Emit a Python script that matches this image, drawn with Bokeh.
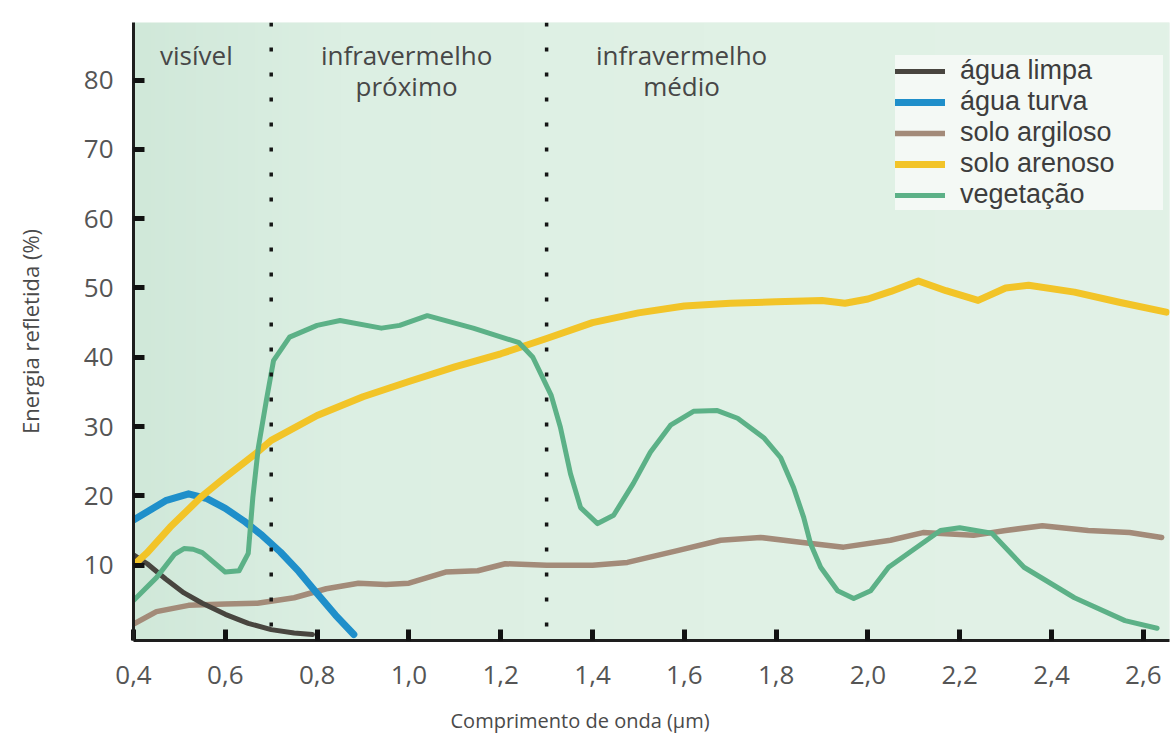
import numpy as np
from bokeh.plotting import figure
from bokeh.models import FixedTicker, Span, Legend, LegendItem, Title, Range1d
from bokeh.core.properties import value
from bokeh.embed import file_html
from bokeh.resources import INLINE

# ---------------- data ----------------
agua_limpa_x = [0.40, 0.43, 0.47, 0.51, 0.55, 0.60, 0.65, 0.70, 0.75, 0.79]
agua_limpa_y = [11.5, 10.2, 8.0, 6.0, 4.5, 2.9, 1.6, 0.7, 0.2, 0.0]

agua_turva_x = [0.40, 0.43, 0.47, 0.52, 0.56, 0.60, 0.64, 0.68, 0.72, 0.76, 0.80, 0.84, 0.88]
agua_turva_y = [16.5, 17.7, 19.3, 20.3, 19.6, 18.2, 16.4, 14.3, 11.9, 9.1, 5.9, 2.8, 0.0]

solo_argiloso_x = [0.40, 0.45, 0.52, 0.60, 0.67, 0.75, 0.82, 0.89, 0.95, 1.00, 1.08, 1.15,
                   1.21, 1.30, 1.40, 1.476, 1.585, 1.679, 1.766, 1.853, 1.947, 2.049,
                   2.12, 2.23, 2.30, 2.38, 2.48, 2.57, 2.64]
solo_argiloso_y = [1.5, 3.3, 4.2, 4.4, 4.5, 5.3, 6.6, 7.4, 7.2, 7.4, 9.0, 9.2,
                   10.2, 10.0, 10.0, 10.4, 12.1, 13.6, 14.0, 13.3, 12.6, 13.6,
                   14.7, 14.3, 15.0, 15.7, 15.0, 14.7, 14.0]

solo_arenoso_x = [0.40, 0.43, 0.48, 0.55, 0.60, 0.67, 0.70, 0.80, 0.90, 1.00, 1.10, 1.20,
                  1.30, 1.40, 1.50, 1.60, 1.70, 1.80, 1.90, 1.95, 2.00, 2.05, 2.11, 2.17,
                  2.24, 2.30, 2.35, 2.45, 2.55, 2.65]
solo_arenoso_y = [10.0, 11.8, 15.5, 20.0, 22.7, 26.3, 28.0, 31.6, 34.3, 36.5, 38.6, 40.5,
                  42.7, 45.0, 46.4, 47.4, 47.8, 48.0, 48.2, 47.8, 48.4, 49.5, 51.0, 49.6,
                  48.2, 50.0, 50.4, 49.4, 47.9, 46.5]

vegetacao_x = [0.40, 0.45, 0.49, 0.51, 0.53, 0.55, 0.60, 0.63, 0.65, 0.66, 0.672, 0.69,
               0.705, 0.74, 0.80, 0.85, 0.94, 0.98, 1.04, 1.14, 1.24, 1.27, 1.31, 1.33,
               1.352, 1.374, 1.411, 1.446, 1.489, 1.526, 1.57, 1.62, 1.672, 1.716, 1.773,
               1.81, 1.838, 1.86, 1.875, 1.897, 1.934, 1.969, 2.006, 2.045, 2.158, 2.20,
               2.27, 2.34, 2.45, 2.56, 2.63]
vegetacao_y = [4.9, 8.2, 11.6, 12.4, 12.3, 11.8, 9.0, 9.2, 11.7, 19.8, 27.0, 34.0,
               39.5, 42.9, 44.6, 45.3, 44.2, 44.6, 46.0, 44.2, 42.1, 40.0, 34.5, 29.9,
               23.2, 18.3, 16.0, 17.2, 21.8, 26.3, 30.2, 32.2, 32.3, 31.2, 28.4,
               25.5, 21.2, 16.9, 13.1, 9.7, 6.3, 5.2, 6.3, 9.7, 15.0, 15.4,
               14.6, 9.7, 5.3, 2.0, 0.9]

series_names = ["água limpa", "água turva", "solo argiloso", "solo arenoso", "vegetação"]

x_ticks = [0.4, 0.6, 0.8, 1.0, 1.2, 1.4, 1.6, 1.8, 2.0, 2.2, 2.4, 2.6]
x_tick_labels = ["0,4", "0,6", "0,8", "1,0", "1,2", "1,4", "1,6", "1,8", "2,0", "2,2", "2,4", "2,6"]
y_ticks = [10, 20, 30, 40, 50, 60, 70, 80]

band_edges = [0.7, 1.3]
band_label_x = [0.537, 0.995, 1.594]
band_labels = ["visível", "infravermelho\npróximo", "infravermelho\nmédio"]

x_title = "Comprimento de onda (µm)"
y_title = "Energia refletida (%)"

# ---------------- styling ----------------
FONT = "Open Sans"
X0, X1 = 0.4, 2.657
Y0, Y1 = -0.87, 88.3

p = figure(width=1170, height=753, x_range=Range1d(X0, X1), y_range=Range1d(Y0, Y1),
           output_backend="svg", toolbar_location=None,
           min_border_left=133, min_border_right=1, min_border_top=22, min_border_bottom=113)
p.outline_line_color = None
p.grid.visible = False
p.background_fill_color = "#e2f0e6"
p.border_fill_color = "white"

# soft green background gradient (style only)
W = 300
pos = np.linspace(0, 1, W)
stops = [0.0, 0.2, 0.55, 1.0]
rr = np.interp(pos, stops, [208, 220, 224, 226])
gg = np.interp(pos, stops, [232, 239, 241, 241])
bb = np.interp(pos, stops, [217, 227, 229, 231])
img = np.empty((1, W), dtype=np.uint32)
view = img.view(dtype=np.uint8).reshape((1, W, 4))
view[0, :, 0] = rr
view[0, :, 1] = gg
view[0, :, 2] = bb
view[0, :, 3] = 255
p.image_rgba(image=[img], x=X0, y=Y0, dw=X1 - X0, dh=Y1 - Y0)

# region separators
for e in band_edges:
    p.add_layout(Span(location=e, dimension="height", line_color="#151515",
                      line_width=3.5, line_dash="4 21"))

# region labels
p.text(x=band_label_x, y=[86.2] * 3, text=band_labels, text_align="center",
       text_baseline="top", text_font=value(FONT), text_font_size="26px",
       text_color="#474747", text_line_height=0.85)

# curves
r_arg = p.line(solo_argiloso_x, solo_argiloso_y, line_color="#a38b79", line_width=5.5,
               line_cap="round", line_join="round")
r_limpa = p.line(agua_limpa_x, agua_limpa_y, line_color="#48453f", line_width=5,
                 line_cap="round", line_join="round")
r_turva = p.line(agua_turva_x, agua_turva_y, line_color="#1f8fca", line_width=7,
                 line_cap="round", line_join="round")
r_aren = p.line(solo_arenoso_x, solo_arenoso_y, line_color="#f2c428", line_width=7,
                line_cap="round", line_join="round")
r_veg = p.line(vegetacao_x, vegetacao_y, line_color="#5cb187", line_width=5,
               line_cap="round", line_join="round")

# axes
for ax in (p.xaxis[0], p.yaxis[0]):
    ax.axis_line_width = 3
    ax.axis_line_color = "#1e1e1e"
    ax.major_tick_in = 11
    ax.major_tick_out = 0
    ax.major_tick_line_width = 5
    ax.major_tick_line_color = "#111111"
    ax.minor_tick_line_color = None
    ax.major_label_text_font = FONT
    ax.major_label_text_font_size = "26px"
    ax.major_label_text_color = "#555555"

p.xaxis.ticker = FixedTicker(ticks=x_ticks)
p.xaxis.major_label_overrides = dict(zip(x_ticks, x_tick_labels))
p.xaxis.major_label_standoff = 25
p.yaxis.ticker = FixedTicker(ticks=y_ticks)
p.yaxis.major_label_standoff = 20
p.yaxis.axis_label = y_title
p.yaxis.axis_label_text_font = FONT
p.yaxis.axis_label_text_font_size = "22px"
p.yaxis.axis_label_text_font_style = "normal"
p.yaxis.axis_label_text_color = "#4a4a4a"
p.yaxis.axis_label_standoff = 36

# x-axis title, left-aligned under the axis like the reference
p.add_layout(Title(text=x_title, align="left", offset=317, vertical_align="bottom",
                   standoff=36, text_font=FONT, text_font_size="20px",
                   text_font_style="normal", text_color="#4a4a4a"), "below")

# legend
renderers = [r_limpa, r_turva, r_arg, r_aren, r_veg]
legend = Legend(items=[LegendItem(label=n, renderers=[r]) for n, r in zip(series_names, renderers)],
                location=(762, 430))
legend.background_fill_color = "#f5f9f5"
legend.background_fill_alpha = 0.97
legend.border_line_color = None
legend.label_text_font = "Liberation Sans"
legend.label_text_font_size = "27px"
legend.label_text_color = "#3d3d3d"
legend.glyph_width = 50
legend.glyph_height = 20
legend.label_height = 20
legend.label_width = 203
legend.label_standoff = 15
legend.padding = 0
legend.spacing = 0
legend.margin = 0
p.add_layout(legend)

open("out.html", "w").write(file_html(p, INLINE))
